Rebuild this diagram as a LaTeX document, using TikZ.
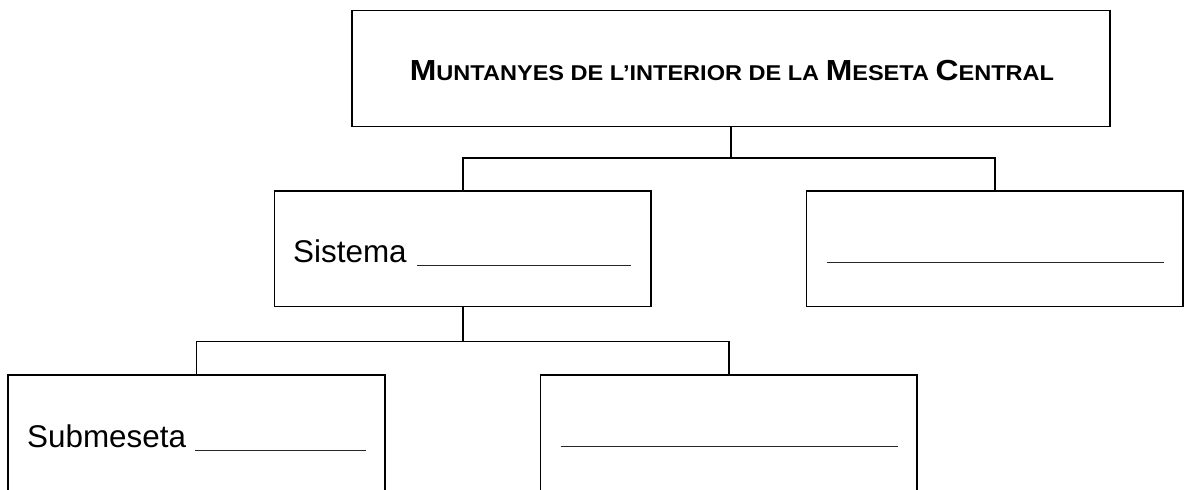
\documentclass[tikz,border=0pt]{standalone}
\usepackage{fontspec}
\setmainfont{Liberation Sans}
\newcommand{\capA}[1]{{\fontsize{29}{30}\selectfont #1}}
\newcommand{\capB}[1]{{\fontsize{21.4}{22}\selectfont #1}}
\begin{document}
\begin{tikzpicture}[x=1pt,y=-1pt,
  box/.style={draw, line width=1.3pt, inner sep=0pt},
  link/.style={line width=1.3pt},
  blank/.style={line width=1.1pt, draw=black!85},
  lbl/.style={anchor=base west, inner sep=0pt, font=\fontsize{31.4}{32}\selectfont},
  ttl/.style={anchor=base, inner sep=0pt, font=\bfseries}]
\clip (0,0) rectangle (1184,490);
% boxes
\node[box, minimum width=758pt, minimum height=116pt] (top) at (731,68.7) {};
\node[box, minimum width=376.3pt, minimum height=115.7pt] (left) at (462.85,248.85) {};
\node[box, minimum width=376.3pt, minimum height=115.7pt] (right) at (994.85,248.85) {};
\node[box, minimum width=377pt, minimum height=145pt] (bl) at (196.5,447.5) {};
\node[box, minimum width=376.2pt, minimum height=145pt] (bm) at (728.9,447.5) {};
% texts
\node[ttl] (title) at (732,80) {\scalebox{1.10}[1]{\capA{M}\capB{UNTANYES DE L’INTERIOR DE LA }\capA{M}\capB{ESETA }\capA{C}\capB{ENTRAL}}};
\node[lbl] (sis) at (293,262.5) {Sistema};
\node[lbl] (sub) at (27,447.5) {Submeseta};
\draw[blank] (417,265.7) -- (631,265.7);
\draw[blank] (826.7,262.7) -- (1164,262.7);
\draw[blank] (195.4,450.7) -- (366,450.7);
\draw[blank] (560.5,446.7) -- (897.5,446.7);
% connectors
\draw[link] (top.south) -- ++(0,30.5) -| (left.north);
\draw[link] (top.south) ++(0,30.5) -| (right.north);
\draw[link] (left.south) -- ++(0,34) -| (bl.north);
\draw[link] (left.south) ++(0,34) -| (bm.north);
\end{tikzpicture}
\end{document}
